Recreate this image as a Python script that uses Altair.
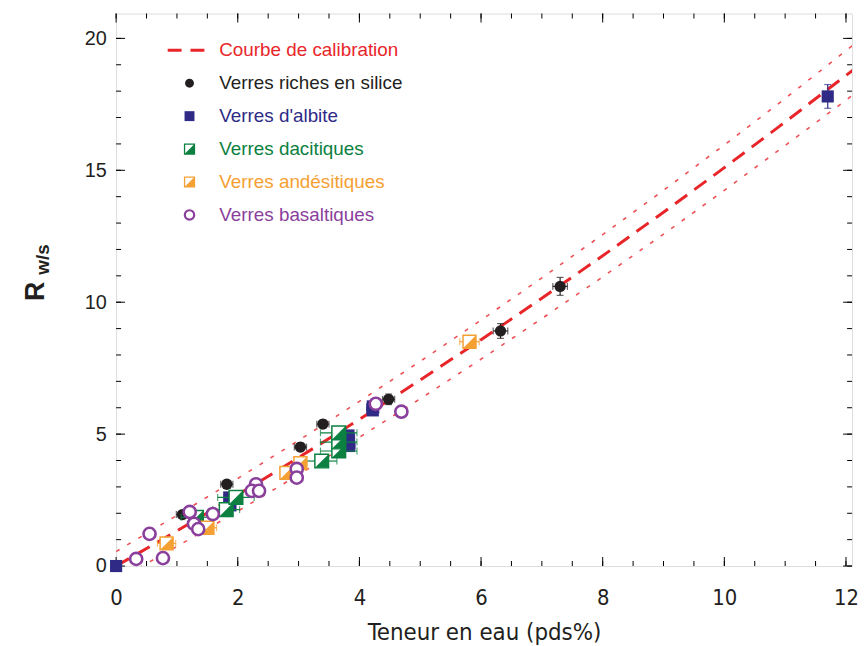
import altair as alt
import pandas as pd

# ---------------- data ----------------
curve_x = [0, 1, 2, 3, 4, 5, 6, 7, 8, 9, 10, 11, 12.2]
curve_y = [0, 1.33, 2.70, 4.11, 5.56, 7.05, 8.58, 10.15, 11.76, 13.41, 15.10, 16.83, 18.95]
upper_y = [0.55, 1.92, 3.32, 4.76, 6.24, 7.76, 9.32, 10.92, 12.56, 14.24, 15.96, 17.72, 19.90]
lower_y = [-0.55, 0.74, 2.08, 3.46, 4.88, 6.34, 7.84, 9.38, 10.96, 12.58, 14.24, 15.94, 18.00]

silica_x = [1.09, 1.82, 3.03, 3.40, 4.48, 6.32, 7.30]
silica_y = [1.95, 3.10, 4.51, 5.38, 6.32, 8.91, 10.60]
silica_xerr = [0.10, 0.10, 0.10, 0.10, 0.10, 0.12, 0.12]
silica_yerr = [0.15, 0.15, 0.15, 0.15, 0.20, 0.28, 0.34]

albite_x = [0.00, 1.86, 1.88, 3.82, 3.82, 3.83, 4.22, 4.22, 11.70]
albite_y = [0.00, 2.60, 2.30, 4.95, 4.75, 4.55, 6.05, 5.90, 17.80]
albite_xerr = [0.00, 0.08, 0.08, 0.10, 0.10, 0.10, 0.10, 0.10, 0.05]
albite_yerr = [0.00, 0.10, 0.10, 0.10, 0.10, 0.10, 0.10, 0.10, 0.45]

dacite_x = [1.32, 1.81, 1.97, 3.38, 3.66, 3.66, 3.66]
dacite_y = [1.85, 2.14, 2.60, 3.98, 4.36, 4.70, 5.05]
dacite_xerr = [0.25, 0.22, 0.30, 0.25, 0.30, 0.30, 0.30]

andes_x = [0.83, 1.50, 2.80, 3.03, 5.81]
andes_y = [0.86, 1.45, 3.53, 3.90, 8.50]
andes_xerr = [0.15, 0.15, 0.10, 0.10, 0.16]
andes_yerr = [0.10, 0.10, 0.10, 0.10, 0.22]

basalt_x = [0.33, 0.55, 0.77, 1.21, 1.28, 1.35, 1.59, 2.30, 2.23, 2.35, 2.97, 2.97, 4.27, 4.69]
basalt_y = [0.27, 1.22, 0.30, 2.05, 1.60, 1.40, 1.97, 3.10, 2.85, 2.85, 3.68, 3.35, 6.15, 5.85]

x_major = [0, 2, 4, 6, 8, 10, 12]
x_minor = [i * 0.5 for i in range(0, 25)]
y_major = [0, 5, 10, 15, 20]
y_minor = list(range(0, 21))

legend_labels = ["Courbe de calibration", "Verres riches en silice", "Verres d'albite",
                 "Verres dacitiques", "Verres andésitiques", "Verres basaltiques"]

# ---------------- styling ----------------
RED = "#e8262a"
BLACK = "#231f20"
BLUE = "#2e2a86"
GREEN = "#0b8040"
ORANGE = "#f5a033"
PURPLE = "#8a3f9c"
legend_colors = [RED, BLACK, BLUE, GREEN, ORANGE, PURPLE]
XFONT = "DejaVu Sans Condensed, Liberation Sans, sans-serif"

W, H = 742, 557
XMAX, YMAX = 12.1, 20.94
xs = alt.Scale(domain=[0, XMAX], nice=False, zero=False)
ys = alt.Scale(domain=[0, YMAX], nice=False, zero=False)
TRI = "M 1 -1 L 1 1 L -1 1 Z"

x_axis = alt.Axis(values=x_major, labelFontSize=22, labelFont=XFONT,
                  labelColor=BLACK, ticks=False, grid=False, domain=False, labelPadding=22,
                  title="Teneur en eau (pds%)", titleFontSize=24, titleFont=XFONT,
                  titleFontWeight="normal", titleColor=BLACK, titlePadding=12, labelFlush=False)
y_axis = alt.Axis(values=y_major, labelFontSize=20, labelFont="Liberation Sans",
                  labelColor=BLACK, ticks=False, grid=False, domain=False, labelPadding=10,
                  title="")

curve_df = pd.DataFrame({"x": curve_x, "y": curve_y, "up": upper_y, "lo": lower_y})

layers = []

# calibration curve (carries the axes)
layers.append(alt.Chart(curve_df).mark_line(color=RED, strokeWidth=3, strokeDash=[15, 9], clip=True)
              .encode(x=alt.X("x:Q", scale=xs, axis=x_axis), y=alt.Y("y:Q", scale=ys, axis=y_axis)))

# frame ticks (inward)
def xt(vals, size, top):
    return alt.Chart(pd.DataFrame({"v": vals})).mark_tick(
        orient="vertical", size=size, thickness=1, color="black", opacity=1
    ).encode(x=alt.X("v:Q", scale=xs, axis=None),
             y=alt.value(size / 2 if top else H - size / 2))

def yt(vals, size, right):
    return alt.Chart(pd.DataFrame({"v": vals})).mark_tick(
        orient="horizontal", size=size, thickness=1, color="black", opacity=1
    ).encode(y=alt.Y("v:Q", scale=ys, axis=None),
             x=alt.value(W - size / 2 if right else size / 2))

layers += [xt(x_minor, 5, False), xt(x_major, 9, False), xt(x_minor, 5, True), xt(x_major, 9, True),
           yt(y_minor, 5, False), yt(y_major, 9, False), yt(y_minor, 5, True), yt(y_major, 9, True)]

# bounds
layers.append(alt.Chart(curve_df).mark_line(color=RED, strokeWidth=1.6, strokeDash=[4, 9],
                                            opacity=0.8, clip=True)
              .encode(x=alt.X("x:Q", scale=xs, axis=None), y=alt.Y("up:Q", scale=ys, axis=None)))
layers.append(alt.Chart(curve_df).mark_line(color=RED, strokeWidth=1.6, strokeDash=[4, 9],
                                            opacity=0.8, clip=True)
              .encode(x=alt.X("x:Q", scale=xs, axis=None), y=alt.Y("lo:Q", scale=ys, axis=None)))


def errbars(xv, yv, xe, ye, color):
    out = []
    df = pd.DataFrame({"x": xv, "y": yv, "xe": xe, "ye": ye if ye is not None else [0] * len(xv)})
    df["xl"] = df.x - df.xe
    df["xh"] = df.x + df.xe
    df["yl"] = df.y - df.ye
    df["yh"] = df.y + df.ye
    dx = df[df.xe > 0]
    dy = df[df.ye > 0]
    if len(dx):
        out.append(alt.Chart(dx).mark_errorbar(ticks={"size": 7}, color=color, thickness=1.2)
                   .encode(x=alt.X("xl:Q", scale=xs, axis=None, title=""), x2="xh:Q",
                           y=alt.Y("y:Q", scale=ys, axis=None)))
    if len(dy):
        out.append(alt.Chart(dy).mark_errorbar(ticks={"size": 7}, color=color, thickness=1.2)
                   .encode(y=alt.Y("yl:Q", scale=ys, axis=None, title=""), y2="yh:Q",
                           x=alt.X("x:Q", scale=xs, axis=None)))
    return out


def pts(xv, yv):
    return pd.DataFrame({"x": xv, "y": yv})

enc = dict(x=alt.X("x:Q", scale=xs, axis=None), y=alt.Y("y:Q", scale=ys, axis=None))

# silica
layers += errbars(silica_x, silica_y, silica_xerr, silica_yerr, BLACK)
layers.append(alt.Chart(pts(silica_x, silica_y)).mark_point(shape="circle", filled=True, size=130,
                                                            color=BLACK, opacity=1).encode(**enc))
# albite
layers += errbars(albite_x, albite_y, albite_xerr, albite_yerr, BLUE)
layers.append(alt.Chart(pts(albite_x, albite_y)).mark_point(shape="square", filled=True, size=150,
                                                            color=BLUE, opacity=1).encode(**enc))
# dacite
layers += errbars(dacite_x, dacite_y, dacite_xerr, None, GREEN)
layers.append(alt.Chart(pts(dacite_x, dacite_y)).mark_point(shape="square", filled=True, fill="white",
                                                            stroke=GREEN, strokeWidth=1.5, size=190,
                                                            opacity=1).encode(**enc))
layers.append(alt.Chart(pts(dacite_x, dacite_y)).mark_point(shape=TRI, filled=True, color=GREEN,
                                                            strokeWidth=0, size=190, opacity=1).encode(**enc))
# andesite
layers += errbars(andes_x, andes_y, andes_xerr, andes_yerr, ORANGE)
layers.append(alt.Chart(pts(andes_x, andes_y)).mark_point(shape="square", filled=True, fill="white",
                                                          stroke=ORANGE, strokeWidth=1.5, size=170,
                                                          opacity=1).encode(**enc))
layers.append(alt.Chart(pts(andes_x, andes_y)).mark_point(shape=TRI, filled=True, color=ORANGE,
                                                          strokeWidth=0, size=170, opacity=1).encode(**enc))
# basalt
layers.append(alt.Chart(pts(basalt_x, basalt_y)).mark_point(shape="circle", filled=True, fill="white",
                                                            stroke=PURPLE, strokeWidth=2.6, size=150,
                                                            opacity=1).encode(**enc))

# ---------------- legend (inside plot, top-left) ----------------
LX, LT, LY0, LSTEP = 74, 104, 37, 33.2
leg_df = pd.DataFrame({"label": legend_labels, "color": legend_colors, "i": list(range(6))})
layers.append(alt.Chart(leg_df).transform_calculate(py=f"{LY0} + {LSTEP} * datum.i").mark_text(
    align="left", baseline="middle", fontSize=19, font="Liberation Sans"
).encode(x=alt.value(LT), y=alt.Y("py:Q", scale=None, axis=None),
         text="label:N", color=alt.Color("color:N", scale=None)))

layers.append(alt.Chart(leg_df).transform_filter("datum.i == 0").mark_rule(
    color=RED, strokeWidth=3, strokeDash=[14, 9]
).encode(x=alt.value(52), x2=alt.value(98), y=alt.value(LY0)))

def leg_sym(i, **kw):
    return alt.Chart(leg_df).transform_filter(f"datum.i == {i}").transform_calculate(
        py=f"{LY0} + {LSTEP} * datum.i").mark_point(opacity=1, **kw).encode(
        x=alt.value(LX), y=alt.Y("py:Q", scale=None, axis=None))

layers.append(leg_sym(1, shape="circle", filled=True, color=BLACK, size=80))
layers.append(leg_sym(2, shape="square", filled=True, color=BLUE, size=100))
layers.append(leg_sym(3, shape="square", filled=True, fill="white", stroke=GREEN, strokeWidth=1.3, size=100))
layers.append(leg_sym(3, shape=TRI, filled=True, color=GREEN, strokeWidth=0, size=100))
layers.append(leg_sym(4, shape="square", filled=True, fill="white", stroke=ORANGE, strokeWidth=1.3, size=100))
layers.append(leg_sym(4, shape=TRI, filled=True, color=ORANGE, strokeWidth=0, size=100))
layers.append(leg_sym(5, shape="circle", filled=True, fill="white", stroke=PURPLE, strokeWidth=2.2, size=90))

# ---------------- y title R_w/s ----------------
ttl = pd.DataFrame({"t": ["R"]})
layers.append(alt.Chart(ttl).mark_text(angle=270, fontSize=27, fontWeight="bold", font="Liberation Sans",
                                       color=BLACK, align="center", baseline="middle")
              .encode(x=alt.value(-81), y=alt.value(280), text="t:N"))
sub = pd.DataFrame({"t": ["w/s"]})
layers.append(alt.Chart(sub).mark_text(angle=270, fontSize=19, fontWeight="bold", font="Liberation Sans",
                                       color=BLACK, align="center", baseline="middle")
              .encode(x=alt.value(-74), y=alt.value(248), text="t:N"))

chart = alt.layer(*layers).resolve_axis(x="independent", y="independent").properties(
    width=W, height=H, padding={"left": 14, "top": 3, "right": 0, "bottom": 0}
).configure_view(stroke="black", strokeWidth=1).configure(font="Liberation Sans")

chart.save("out.html", embed_options={"renderer": "svg", "actions": False})
